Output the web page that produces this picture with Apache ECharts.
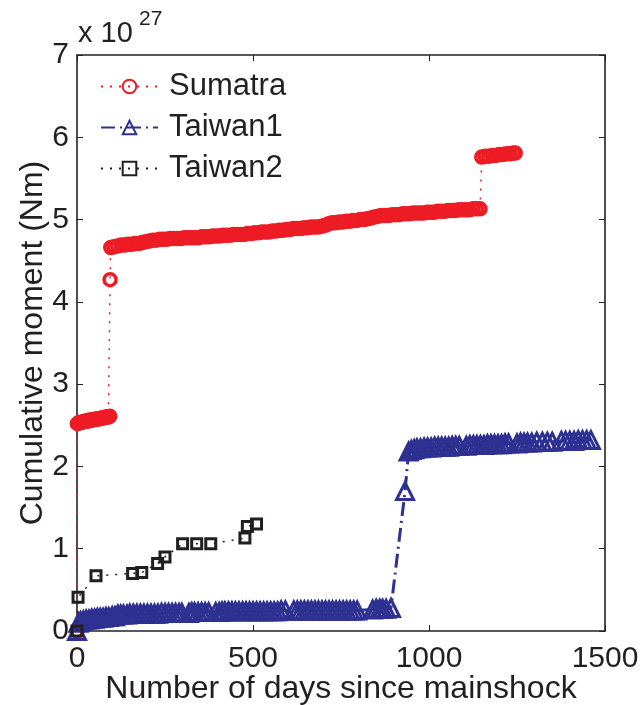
<!DOCTYPE html>
<html><head><meta charset="utf-8">
<script src="https://cdn.jsdelivr.net/npm/echarts@6/dist/echarts.min.js"></script>
<style>html,body{margin:0;padding:0;background:#fff}#c{width:640px;height:705px}</style>
</head><body><div id="c"></div>
<script>
// ---- data (days since mainshock, cumulative moment x 1e27 Nm) ----
const seriesNames = ['Sumatra', 'Taiwan1', 'Taiwan2'];
const xTickValues = [0, 500, 1000, 1500];
const yTickValues = [0, 1, 2, 3, 4, 5, 6, 7];
const sumatra = [
  [0,0],[1,2.52],[5,2.53],[9,2.53],[13,2.54],[17,2.54],[21,2.55],[25,2.55],[29,2.55],[33,2.56],[37,2.56],[41,2.56],
  [45,2.57],[49,2.57],[53,2.57],[57,2.58],[61,2.58],[65,2.58],[69,2.59],[73,2.59],[77,2.59],[81,2.60],[85,2.60],
  [89,2.60],[93,2.61],[94,4.27],[96,4.66],
  [105,4.67],[115,4.68],[125,4.69],[135,4.69],[145,4.70],[155,4.70],[165,4.71],[175,4.71],[185,4.72],[195,4.73],
  [205,4.74],[215,4.75],[225,4.75],[235,4.76],[245,4.76],[255,4.76],[265,4.77],[275,4.77],[285,4.77],[295,4.77],
  [305,4.78],[315,4.78],[325,4.78],[335,4.78],[345,4.78],[355,4.79],[365,4.79],[375,4.79],[385,4.80],[395,4.80],
  [405,4.80],[415,4.81],[425,4.81],[435,4.81],[445,4.82],[455,4.82],[465,4.82],[475,4.82],[485,4.83],[495,4.83],
  [505,4.84],[515,4.84],[525,4.85],[535,4.85],[545,4.85],[555,4.86],[565,4.86],[575,4.87],[585,4.87],[595,4.88],
  [605,4.88],[615,4.89],[625,4.89],[635,4.89],[645,4.90],[655,4.90],[665,4.91],[675,4.91],[685,4.91],[695,4.92],
  [705,4.93],[715,4.95],[725,4.96],[735,4.96],[745,4.97],[755,4.97],[765,4.98],[775,4.98],[785,4.99],[795,4.99],
  [805,5.00],[815,5.00],[825,5.01],[835,5.02],[845,5.03],[855,5.04],[865,5.05],[875,5.05],[885,5.05],[895,5.06],
  [905,5.06],[915,5.06],[925,5.07],[935,5.07],[945,5.07],[955,5.08],[965,5.08],[975,5.08],[985,5.08],[995,5.09],
  [1005,5.09],[1015,5.09],[1025,5.10],[1035,5.10],[1045,5.10],[1055,5.11],[1065,5.11],[1075,5.11],[1085,5.12],
  [1095,5.12],[1105,5.12],[1115,5.12],[1125,5.13],[1135,5.13],[1145,5.13],
  [1150,5.76],[1160,5.77],[1170,5.77],[1180,5.78],[1190,5.78],[1200,5.79],[1210,5.79],[1220,5.80],[1230,5.80],
  [1240,5.81],[1245,5.81]
];
const taiwan1 = [
  [0,0],[4,0.10],[10,0.12],[18,0.13],[26,0.14],[34,0.14],[42,0.15],[50,0.15],[58,0.16],[66,0.16],[74,0.16],
  [82,0.17],[90,0.17],[100,0.18],[108,0.18],[116,0.20],[124,0.20],[132,0.20],[142,0.20],[150,0.21],[160,0.21],
  [170,0.21],[180,0.21],[190,0.21],[200,0.21],[210,0.21],[220,0.21],[230,0.21],[240,0.22],[250,0.22],[260,0.22],
  [270,0.22],[280,0.22],[290,0.22],[298,0.22],
  [318,0.22],[326,0.23],[334,0.23],[344,0.23],[354,0.23],[364,0.23],[374,0.23],[394,0.23],[404,0.23],[412,0.24],
  [420,0.24],[430,0.24],[440,0.24],[450,0.24],[460,0.24],[470,0.24],[480,0.24],[490,0.24],[500,0.24],[510,0.24],
  [520,0.24],[530,0.24],[540,0.24],[550,0.24],[560,0.24],[570,0.24],[580,0.25],[592,0.25],[616,0.25],[626,0.25],
  [636,0.25],[646,0.25],[656,0.25],[666,0.25],[676,0.25],[686,0.25],[696,0.25],[706,0.25],[716,0.25],[726,0.25],
  [736,0.25],[746,0.25],[756,0.25],[766,0.25],[776,0.25],[786,0.25],[796,0.25],
  [840,0.26],[850,0.27],[860,0.27],[868,0.27],[878,0.27],[892,0.28],
  [932,1.70],[942,2.18],[950,2.20],[958,2.21],[966,2.22],[976,2.22],[986,2.23],[996,2.23],[1006,2.23],[1016,2.24],
  [1026,2.24],[1036,2.24],[1046,2.24],[1056,2.24],[1066,2.25],[1076,2.25],[1086,2.25],[1106,2.25],[1116,2.26],
  [1126,2.26],[1136,2.26],[1146,2.26],[1156,2.26],[1166,2.27],[1176,2.27],[1186,2.27],[1196,2.27],[1206,2.27],
  [1216,2.28],[1226,2.28],[1250,2.28],[1260,2.29],[1270,2.29],[1280,2.29],[1292,2.29],[1306,2.30],[1322,2.30],
  [1336,2.30],[1350,2.30],[1376,2.31],[1388,2.31],[1400,2.31],[1412,2.31],[1424,2.32],[1436,2.32],[1448,2.32],
  [1460,2.32]
];
const taiwan2 = [
  [0,0],[3,0.41],[54,0.67],[158,0.70],[184,0.71],[229,0.82],[250,0.90],[300,1.06],[340,1.06],[380,1.06],
  [477,1.13],[484,1.27],[510,1.30]
];
const xTitle = 'Number of days since mainshock';
const yTitle = 'Cumulative moment (Nm)';
const scaleText = 'x 10';
const scaleExp = '27';

// ---- styling ----
const FONT = '"Liberation Sans", Arial, Helvetica, sans-serif';
const INK = '#231F20';
const RED = '#ED1C24', BLUE = '#2E3192', BLACK = '#231F20';
const axisLineStyle = { color: '#222', width: 1.6 };

const chart = echarts.init(document.getElementById('c'), null, { renderer: 'canvas' });

function xAx(pos, main) {
  return {
    type: 'value', position: pos, min: xTickValues[0], max: xTickValues[xTickValues.length - 1],
    interval: xTickValues[1] - xTickValues[0],
    axisLine: { show: true, onZero: false, lineStyle: axisLineStyle },
    axisTick: { show: true, inside: true, length: 6, lineStyle: { color: '#222', width: 1 } },
    axisLabel: { show: main, fontSize: 30, color: INK, fontFamily: FONT, margin: 13,
      showMinLabel: true, showMaxLabel: true, formatter: v => String(v) },
    splitLine: { show: false },
    name: main ? xTitle : '', nameLocation: 'middle', nameGap: 42, nameMoveOverlap: false,
    nameTextStyle: { fontSize: 32, color: INK, fontFamily: FONT }
  };
}
function yAx(pos, main) {
  return {
    type: 'value', position: pos, min: yTickValues[0], max: yTickValues[yTickValues.length - 1],
    interval: yTickValues[1] - yTickValues[0],
    axisLine: { show: true, onZero: false, lineStyle: axisLineStyle },
    axisTick: { show: true, inside: true, length: 6, lineStyle: { color: '#222', width: 1 } },
    axisLabel: { show: main, fontSize: 30, color: INK, fontFamily: FONT, margin: 8,
      showMinLabel: true, showMaxLabel: true, formatter: v => String(v) },
    splitLine: { show: false },
    name: main ? yTitle : '', nameLocation: 'middle', nameGap: 28, nameMoveOverlap: false,
    nameTextStyle: { fontSize: 32, color: INK, fontFamily: FONT }
  };
}

const option = {
  animation: false,
  backgroundColor: '#fff',
  grid: { left: 77, right: 35, top: 55, bottom: 74, containLabel: false, outerBoundsMode: 'none' },
  xAxis: [xAx('bottom', true), xAx('top', false)],
  yAxis: [yAx('left', true), yAx('right', false)],
  legend: {
    orient: 'vertical', left: 95, top: 66, itemWidth: 57, itemHeight: 17, itemGap: 10,
    data: seriesNames,
    textStyle: { fontSize: 31, color: INK, fontFamily: FONT, padding: [0, 0, 0, 6] }
  },
  graphic: [
    { type: 'text', left: 78, top: 19, style: { text: scaleText, fontSize: 29, fill: INK, fontFamily: FONT } },
    { type: 'text', left: 139, top: 9, style: { text: scaleExp, fontSize: 21, fill: INK, fontFamily: FONT } }
  ],
  series: [
    {
      name: seriesNames[0], type: 'line', data: sumatra, clip: false, z: 2,
      symbol: 'circle', symbolSize: 12, showAllSymbol: true,
      itemStyle: { color: 'rgba(255,255,255,0)', borderColor: RED, borderWidth: 3.5 },
      lineStyle: { color: RED, width: 1.5, type: [2, 7] },
      emphasis: { disabled: true }
    },
    {
      name: seriesNames[1], type: 'line', data: taiwan1, clip: false, z: 3,
      symbol: 'triangle', symbolSize: 17, showAllSymbol: true,
      itemStyle: { color: 'rgba(255,255,255,0)', borderColor: BLUE, borderWidth: 3 },
      lineStyle: { color: BLUE, width: 3, type: [14, 5, 2, 5] },
      emphasis: { disabled: true }
    },
    {
      name: seriesNames[2], type: 'line', data: taiwan2, clip: false, z: 4,
      symbol: 'rect', symbolSize: 10, showAllSymbol: true,
      itemStyle: { color: 'rgba(255,255,255,0)', borderColor: BLACK, borderWidth: 3 },
      lineStyle: { color: BLACK, width: 1.5, type: [2, 7] },
      emphasis: { disabled: true }
    }
  ]
};
chart.setOption(option);
</script>
</body></html>
